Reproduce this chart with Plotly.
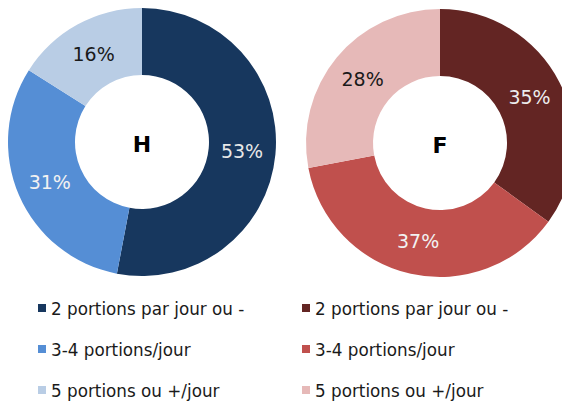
import plotly.graph_objects as go

categories = ["2 portions par jour ou -", "3-4 portions/jour", "5 portions ou +/jour"]
values_h = [53, 31, 16]
values_f = [35, 37, 28]
colors_h = ["#17375E", "#558ED5", "#B9CDE5"]
colors_f = ["#632523", "#C0504D", "#E6B9B8"]
text_colors_h = ["#E8E8E8", "#F2F2F2", "#1A1A1A"]
text_colors_f = ["#EDEDED", "#F2F2F2", "#1A1A1A"]

W, H = 570, 405
OFF = 8  # page body margin
FONT = "DejaVu Sans, Verdana, sans-serif"

def px_x(x):
    return (x - OFF) / W

def px_y(y):
    return 1 - (y - OFF) / H

fig = go.Figure()

fig.add_trace(go.Pie(
    labels=categories, values=values_h, hole=0.5, sort=False,
    direction="clockwise", rotation=0,
    marker=dict(colors=colors_h, line=dict(width=0)),
    textinfo="percent", textposition="inside", insidetextorientation="horizontal",
    textfont=dict(family=FONT, size=19, color=text_colors_h),
    title=dict(text="<b>H</b>", position="middle center", font=dict(family=FONT, size=22, color="#000000")),
    domain=dict(x=[px_x(8), px_x(276)], y=[px_y(276), px_y(8)]),
    showlegend=False, hoverinfo="label+percent",
))

fig.add_trace(go.Pie(
    labels=categories, values=values_f, hole=0.5, sort=False,
    direction="clockwise", rotation=0,
    marker=dict(colors=colors_f, line=dict(width=0)),
    textinfo="percent", textposition="inside", insidetextorientation="horizontal",
    textfont=dict(family=FONT, size=19, color=text_colors_f),
    title=dict(text="<b>F</b>", position="middle center", font=dict(family=FONT, size=22, color="#000000")),
    domain=dict(x=[px_x(306), px_x(574)], y=[px_y(277), px_y(9)]),
    showlegend=False, hoverinfo="label+percent",
))

# Legends (one per donut), built from the category and colour lists
row_y = [308, 349, 390]
shapes = []
annotations = []
for legend_x, cols in [(38, colors_h), (302, colors_f)]:
    for i, (cat, col) in enumerate(zip(categories, cols)):
        yc = row_y[i]
        shapes.append(dict(type="rect", xref="paper", yref="paper",
                           x0=px_x(legend_x), x1=px_x(legend_x + 8),
                           y0=px_y(yc + 4), y1=px_y(yc - 4),
                           fillcolor=col, line=dict(width=0)))
        annotations.append(dict(text=cat, xref="paper", yref="paper",
                                x=px_x(legend_x + 11), y=px_y(yc + 1),
                                xanchor="left", yanchor="middle", showarrow=False,
                                font=dict(family=FONT, size=16.8, color="#1A1A1A")))

fig.update_layout(
    width=W, height=H,
    margin=dict(l=0, r=0, t=0, b=0),
    paper_bgcolor="white", plot_bgcolor="white",
    shapes=shapes, annotations=annotations,
    showlegend=False,
)

fig.write_html("out.html")
